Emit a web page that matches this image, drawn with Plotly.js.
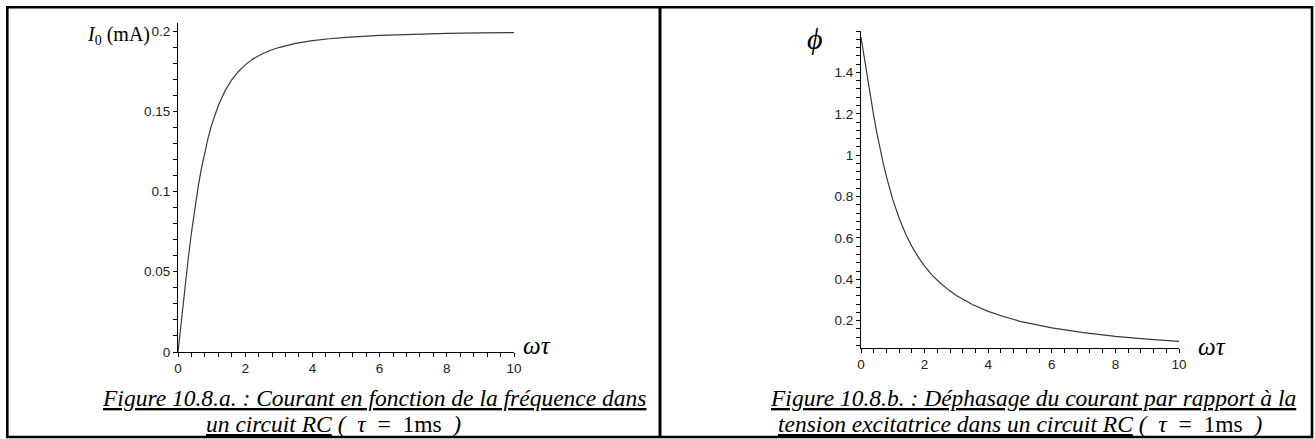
<!DOCTYPE html>
<html>
<head>
<meta charset="utf-8">
<script src="https://cdn.plot.ly/plotly-3.0.1.min.js"></script>
<style>html,body{margin:0;padding:0;background:#fff;}#chart{width:1315px;height:439px;}</style>
</head>
<body>
<div id="chart"></div>
<script>
// ---- data ----
const omegaTau = [0, 0.1, 0.2, 0.3, 0.4, 0.5, 0.6, 0.7, 0.8, 0.9, 1, 1.2, 1.4, 1.6, 1.8, 2, 2.25, 2.5, 2.75, 3, 3.5, 4, 4.5, 5, 6, 7, 8, 9, 10];
const currentI0 = [0, 0.0199, 0.0392, 0.0575, 0.0743, 0.0894, 0.1029, 0.1147, 0.1249, 0.1338, 0.1414, 0.1536, 0.1627, 0.1696, 0.1748, 0.1789, 0.1828, 0.1857, 0.188, 0.1897, 0.1923, 0.194, 0.1952, 0.1961, 0.1973, 0.198, 0.1985, 0.1988, 0.199];
const phaseShift = [1.571, 1.471, 1.373, 1.279, 1.19, 1.107, 1.03, 0.96, 0.896, 0.838, 0.785, 0.695, 0.62, 0.559, 0.507, 0.464, 0.418, 0.381, 0.349, 0.322, 0.278, 0.245, 0.219, 0.197, 0.165, 0.142, 0.124, 0.111, 0.0997];

const xTickVals = [0, 2, 4, 6, 8, 10];
const yTickValsA = [0, 0.05, 0.1, 0.15, 0.2];
const yTickValsB = [0.2, 0.4, 0.6, 0.8, 1, 1.2, 1.4];

const sp = "\u00a0\u00a0";
const tauPart = " (" + sp + "τ" + sp + "<span style=\"font-style:normal\">=" + sp + "1ms</span>" + sp + ")";
const captionA1 = "<u>Figure 10.8.a. : Courant en fonction de la fréquence dans</u>";
const captionA2 = "<u>un circuit RC</u>" + tauPart;
const captionB1 = "<u>Figure 10.8.b. : Déphasage du courant par rapport à la</u>";
const captionB2 = "<u>tension excitatrice dans un circuit RC</u>" + tauPart;

// ---- layout helpers (pixel -> paper) ----
const W = 1315, H = 439;
const px = x => x / W;
const py = y => 1 - y / H;

const tickFont = {family: "Liberation Sans, Arial, sans-serif", size: 13.5, color: "#222"};
const serif = "Liberation Serif, Times New Roman, serif";

function axisBase(extra) {
  return Object.assign({
    showgrid: false, zeroline: false, showline: true, linecolor: "#000", linewidth: 1,
    ticks: "outside", ticklen: 4, tickwidth: 1, tickcolor: "#000",
    tickfont: tickFont, fixedrange: true, tickmode: "array"
  }, extra);
}
const minorTicks = d => ({dtick: d, tick0: 0, ticks: "outside", ticklen: 4, tickcolor: "#000", tickwidth: 1});

const traces = [
  {x: omegaTau, y: currentI0, type: "scatter", mode: "lines", line: {color: "#3a3a3a", width: 1.2}, xaxis: "x", yaxis: "y", hoverinfo: "skip"},
  {x: omegaTau, y: phaseShift, type: "scatter", mode: "lines", line: {color: "#3a3a3a", width: 1.2}, xaxis: "x2", yaxis: "y2", hoverinfo: "skip"}
];

const layout = {
  width: W, height: H,
  margin: {l: 0, r: 0, t: 0, b: 0},
  paper_bgcolor: "#fff", plot_bgcolor: "#fff",
  showlegend: false,
  xaxis: axisBase({domain: [px(178), px(514)], range: [0, 10], tickvals: xTickVals, anchor: "y", minor: minorTicks(0.4)}),
  yaxis: axisBase({domain: [py(352), py(23)], range: [0, 0.205], tickvals: yTickValsA, anchor: "x", minor: minorTicks(0.01)}),
  xaxis2: axisBase({domain: [px(861), px(1179)], range: [0, 10], tickvals: xTickVals, anchor: "y2", minor: minorTicks(0.4)}),
  yaxis2: axisBase({domain: [py(348), py(31)], range: [0.068, 1.6], tickvals: yTickValsB, anchor: "x2", minor: minorTicks(0.04)}),
  shapes: [
    {type: "rect", xref: "paper", yref: "paper", x0: px(7.3), x1: px(1312), y0: py(437), y1: py(7.3), line: {color: "#000", width: 2.6}},
    {type: "line", xref: "paper", yref: "paper", x0: px(660), x1: px(660), y0: py(437), y1: py(7.3), line: {color: "#000", width: 3}}
  ],
  annotations: [
    {xref: "paper", yref: "paper", x: px(152), y: py(35), xanchor: "right", yanchor: "middle", showarrow: false,
     text: "<i>I</i><sub>0</sub> (mA)", font: {family: serif, size: 20, color: "#000"}},
    {xref: "paper", yref: "paper", x: px(537), y: py(345), xanchor: "center", yanchor: "middle", showarrow: false,
     text: "<i>ωτ</i>", font: {family: serif, size: 25, color: "#000"}},
    {xref: "paper", yref: "paper", x: px(1212), y: py(346), xanchor: "center", yanchor: "middle", showarrow: false,
     text: "<i>ωτ</i>", font: {family: serif, size: 25, color: "#000"}},
    {xref: "paper", yref: "paper", x: px(815), y: py(38), xanchor: "center", yanchor: "middle", showarrow: false,
     text: "<i>ϕ</i>", font: {family: serif, size: 30, color: "#000"}},
    {xref: "paper", yref: "paper", x: px(374), y: py(398), xanchor: "center", yanchor: "middle", showarrow: false,
     text: "<i>" + captionA1 + "</i>", font: {family: serif, size: 23.5, color: "#000"}},
    {xref: "paper", yref: "paper", x: px(333), y: py(424), xanchor: "center", yanchor: "middle", showarrow: false,
     text: "<i>" + captionA2 + "</i>", font: {family: serif, size: 23.5, color: "#000"}},
    {xref: "paper", yref: "paper", x: px(1033), y: py(398), xanchor: "center", yanchor: "middle", showarrow: false,
     text: "<i>" + captionB1 + "</i>", font: {family: serif, size: 23.5, color: "#000"}},
    {xref: "paper", yref: "paper", x: px(1020), y: py(424), xanchor: "center", yanchor: "middle", showarrow: false,
     text: "<i>" + captionB2 + "</i>", font: {family: serif, size: 23.5, color: "#000"}}
  ]
};

Plotly.newPlot("chart", traces, layout, {staticPlot: true, displayModeBar: false});
</script>
</body>
</html>
